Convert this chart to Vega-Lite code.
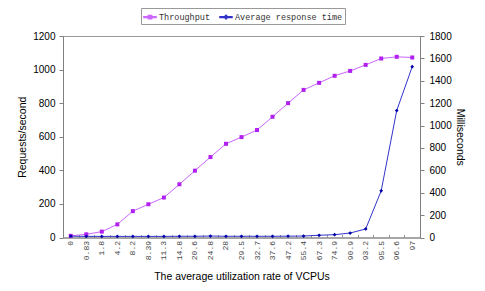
{
  "$schema": "https://vega.github.io/schema/vega-lite/v6.json",
  "width": 357,
  "height": 201.5,
  "autosize": {"type": "none"},
  "padding": {"left": 63, "top": 36, "right": 65, "bottom": 53.5},
  "background": "white",
  "config": {"view": {"stroke": "#999999"}, "font": "Liberation Sans"},
  "data": {"values": [
    {"vcpu": "0", "series": "Throughput", "value": 10},
    {"vcpu": "0.83", "series": "Throughput", "value": 19},
    {"vcpu": "1.8", "series": "Throughput", "value": 35},
    {"vcpu": "4.2", "series": "Throughput", "value": 78},
    {"vcpu": "8.2", "series": "Throughput", "value": 157},
    {"vcpu": "8.39", "series": "Throughput", "value": 198},
    {"vcpu": "11.3", "series": "Throughput", "value": 238},
    {"vcpu": "14.8", "series": "Throughput", "value": 317},
    {"vcpu": "20.6", "series": "Throughput", "value": 398},
    {"vcpu": "24.8", "series": "Throughput", "value": 479},
    {"vcpu": "28", "series": "Throughput", "value": 558},
    {"vcpu": "29.5", "series": "Throughput", "value": 598},
    {"vcpu": "32.7", "series": "Throughput", "value": 640},
    {"vcpu": "37.6", "series": "Throughput", "value": 719},
    {"vcpu": "47.2", "series": "Throughput", "value": 800},
    {"vcpu": "55.4", "series": "Throughput", "value": 879},
    {"vcpu": "67.3", "series": "Throughput", "value": 921},
    {"vcpu": "74.9", "series": "Throughput", "value": 963},
    {"vcpu": "90.9", "series": "Throughput", "value": 992},
    {"vcpu": "93.2", "series": "Throughput", "value": 1028},
    {"vcpu": "95.5", "series": "Throughput", "value": 1066},
    {"vcpu": "96.6", "series": "Throughput", "value": 1076},
    {"vcpu": "97", "series": "Throughput", "value": 1072},
    {"vcpu": "0", "series": "Average response time", "value": 12},
    {"vcpu": "0.83", "series": "Average response time", "value": 10},
    {"vcpu": "1.8", "series": "Average response time", "value": 10},
    {"vcpu": "4.2", "series": "Average response time", "value": 10},
    {"vcpu": "8.2", "series": "Average response time", "value": 10},
    {"vcpu": "8.39", "series": "Average response time", "value": 10},
    {"vcpu": "11.3", "series": "Average response time", "value": 10},
    {"vcpu": "14.8", "series": "Average response time", "value": 11},
    {"vcpu": "20.6", "series": "Average response time", "value": 11},
    {"vcpu": "24.8", "series": "Average response time", "value": 13},
    {"vcpu": "28", "series": "Average response time", "value": 11},
    {"vcpu": "29.5", "series": "Average response time", "value": 11},
    {"vcpu": "32.7", "series": "Average response time", "value": 11},
    {"vcpu": "37.6", "series": "Average response time", "value": 11},
    {"vcpu": "47.2", "series": "Average response time", "value": 12},
    {"vcpu": "55.4", "series": "Average response time", "value": 13},
    {"vcpu": "67.3", "series": "Average response time", "value": 20},
    {"vcpu": "74.9", "series": "Average response time", "value": 25},
    {"vcpu": "90.9", "series": "Average response time", "value": 40},
    {"vcpu": "93.2", "series": "Average response time", "value": 76},
    {"vcpu": "95.5", "series": "Average response time", "value": 417},
    {"vcpu": "96.6", "series": "Average response time", "value": 1134},
    {"vcpu": "97", "series": "Average response time", "value": 1526}
  ]},
  "encoding": {
    "x": {
      "field": "vcpu", "type": "ordinal",
      "scale": {"type": "band", "paddingInner": 0, "paddingOuter": 0,
        "domain": ["0","0.83","1.8","4.2","8.2","8.39","11.3","14.8","20.6","24.8","28","29.5","32.7","37.6","47.2","55.4","67.3","74.9","90.9","93.2","95.5","96.6","97"]},
      "axis": {
        "title": "The average utilization rate of VCPUs",
        "labelAngle": -90, "labelFont": "Liberation Mono", "labelFontSize": 8, "labelColor": "#444444",
        "tickBand": "extent", "tickSize": -3, "tickColor": "#999999", "domainColor": "#808080",
        "labelPadding": 6, "titleFontSize": 10.5, "titleFontWeight": "normal", "titleColor": "#000000", "titlePadding": 12
      }
    }
  },
  "layer": [
    {
      "transform": [{"filter": "datum.series === 'Throughput'"}],
      "encoding": {
        "y": {"field": "value", "type": "quantitative",
          "scale": {"domain": [0, 1200], "nice": false},
          "axis": {"title": "Requests/second", "values": [0,200,400,600,800,1000,1200], "format": "d", "grid": false,
            "labelFontSize": 10, "labelColor": "#000000", "tickSize": 4, "labelPadding": 4, "tickColor": "#808080", "domainColor": "#808080",
            "titleFontSize": 10.5, "titleFontWeight": "normal", "titleColor": "#000000", "titlePadding": 5}}
      },
      "layer": [
        {"mark": {"type": "line", "strokeWidth": 1},
         "encoding": {"color": {"field": "series", "type": "nominal",
           "scale": {"domain": ["Throughput", "Average response time"], "range": ["#CC66FF", "#3333CC"]},
           "legend": {"title": null, "orient": "none", "legendX": 78, "legendY": -28, "direction": "horizontal",
             "strokeColor": "#999999", "padding": 2, "labelFont": "Liberation Mono", "labelFontSize": 8.5, "labelColor": "#333333",
             "symbolSize": 144, "columnPadding": 6, "labelOffset": 2,
             "encode": {"symbols": {"update": {
               "shape": {"signal": "datum.value === 'Throughput' ? 'M-1,-0.06H1V0.06H-1ZM-0.28,-0.28H0.28V0.28H-0.28Z' : 'M-1,-0.06H1V0.06H-1ZM0,-0.3L0.3,0L0,0.3L-0.3,0Z'"},
               "fill": {"signal": "datum.value === 'Throughput' ? '#B020F0' : '#0000AA'"},
               "stroke": {"value": "transparent"}, "opacity": {"value": 1}}}}}}}},
        {"mark": {"type": "point", "filled": true, "shape": "square", "size": 16, "color": "#B020F0", "opacity": 1}}
      ]
    },
    {
      "transform": [{"filter": "datum.series === 'Average response time'"}],
      "encoding": {
        "y": {"field": "value", "type": "quantitative",
          "scale": {"domain": [0, 1800], "nice": false},
          "axis": {"orient": "right", "title": "Milliseconds", "values": [0,200,400,600,800,1000,1200,1400,1600,1800], "format": "d", "grid": false,
            "labelFontSize": 10, "labelColor": "#000000", "tickSize": 4, "labelPadding": 5, "tickColor": "#808080", "domainColor": "#808080",
            "titleFontSize": 10.5, "titleFontWeight": "normal", "titleColor": "#000000", "titlePadding": 3}}
      },
      "layer": [
        {"mark": {"type": "line", "strokeWidth": 1},
         "encoding": {"color": {"field": "series", "type": "nominal",
           "scale": {"domain": ["Throughput", "Average response time"], "range": ["#CC66FF", "#3333CC"]}}}},
        {"mark": {"type": "point", "filled": true, "shape": "diamond", "size": 14, "color": "#0000AA", "opacity": 1}}
      ]
    }
  ],
  "resolve": {"scale": {"y": "independent"}}
}
